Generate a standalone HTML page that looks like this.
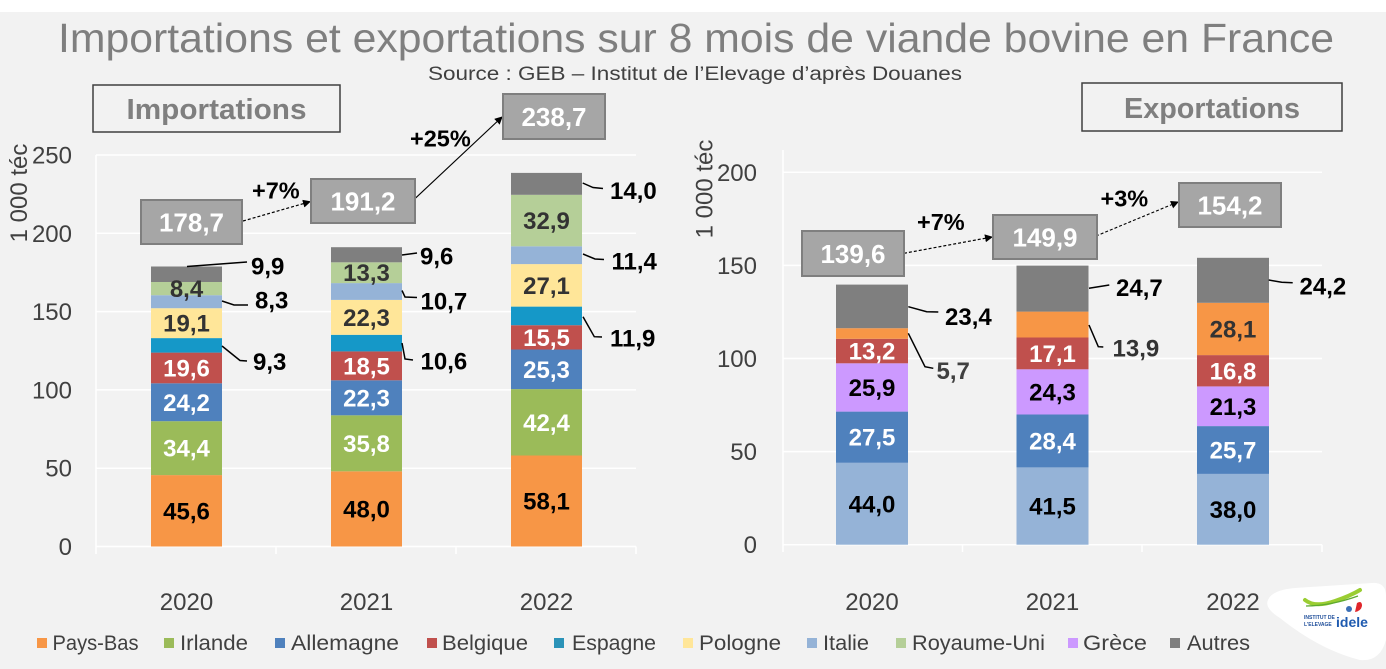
<!DOCTYPE html>
<html><head><meta charset="utf-8"><style>
html,body{margin:0;padding:0;background:#f2f2f2;}
svg{display:block;}
text{font-family:"Liberation Sans",sans-serif;}
.b{font-weight:bold;}
</style></head><body>
<svg width="1386" height="669" viewBox="0 0 1386 669" xmlns="http://www.w3.org/2000/svg">
<defs>
<marker id="ah" markerWidth="8" markerHeight="8" refX="7" refY="4" orient="auto" markerUnits="userSpaceOnUse"><path d="M0,0 L8,4 L0,8 Z" fill="#000"/></marker>
</defs>
<rect x="0" y="0" width="1386" height="669" fill="#f2f2f2"/>
<rect x="0" y="0" width="1386" height="12" fill="#ffffff"/>

<!-- Title -->
<text x="58" y="52" font-size="41" fill="#7f7f7f" textLength="1276" lengthAdjust="spacingAndGlyphs">Importations et exportations sur 8 mois de viande bovine en France</text>
<text x="428" y="80" font-size="19" fill="#404040" textLength="534" lengthAdjust="spacingAndGlyphs">Source : GEB – Institut de l’Elevage d’après Douanes</text>

<!-- Section boxes -->
<rect x="93" y="85" width="247" height="47" fill="#f2f2f2" stroke="#404040" stroke-width="1.5"/>
<text x="216.5" y="119" font-size="29" class="b" fill="#7f7f7f" text-anchor="middle" textLength="180" lengthAdjust="spacingAndGlyphs">Importations</text>
<rect x="1082" y="83" width="260" height="48" fill="#f2f2f2" stroke="#404040" stroke-width="1.5"/>
<text x="1212" y="118" font-size="29" class="b" fill="#7f7f7f" text-anchor="middle" textLength="176" lengthAdjust="spacingAndGlyphs">Exportations</text>

<!-- LEFT CHART grid -->
<g stroke="#ffffff" stroke-width="1.5">
<line x1="96" y1="155" x2="636" y2="155"/>
<line x1="96" y1="233.3" x2="636" y2="233.3"/>
<line x1="96" y1="311.6" x2="636" y2="311.6"/>
<line x1="96" y1="389.9" x2="636" y2="389.9"/>
<line x1="96" y1="468.2" x2="636" y2="468.2"/>
<line x1="96" y1="546.5" x2="636" y2="546.5"/>
<line x1="96" y1="155" x2="96" y2="554"/>
<line x1="276" y1="546.5" x2="276" y2="554"/>
<line x1="456" y1="546.5" x2="456" y2="554"/>
<line x1="636" y1="546.5" x2="636" y2="554"/>
</g>
<g font-size="24" fill="#404040" text-anchor="end">
<text x="72" y="163.5">250</text>
<text x="72" y="241.8">200</text>
<text x="72" y="320.1">150</text>
<text x="72" y="398.4">100</text>
<text x="72" y="476.7">50</text>
<text x="72" y="555">0</text>
</g>
<text transform="translate(27,193) rotate(-90)" font-size="24" fill="#404040" text-anchor="middle">1 000 téc</text>

<!-- Left bars 2020 -->
<g>
<rect x="151" y="475.1" width="71" height="71.4" fill="#F79646"/>
<rect x="151" y="421.2" width="71" height="53.9" fill="#9BBB59"/>
<rect x="151" y="383.3" width="71" height="37.9" fill="#4F81BD"/>
<rect x="151" y="352.6" width="71" height="30.7" fill="#C0504D"/>
<rect x="151" y="338.1" width="71" height="14.5" fill="#1598C8"/>
<rect x="151" y="308.2" width="71" height="29.9" fill="#FFE699"/>
<rect x="151" y="295.2" width="71" height="13" fill="#95B3D7"/>
<rect x="151" y="282.0" width="71" height="13.2" fill="#B5CF98"/>
<rect x="151" y="266.5" width="71" height="15.5" fill="#7F7F7F"/>
</g>
<!-- 2021 -->
<g>
<rect x="331" y="471.3" width="71" height="75.2" fill="#F79646"/>
<rect x="331" y="415.3" width="71" height="56" fill="#9BBB59"/>
<rect x="331" y="380.3" width="71" height="35" fill="#4F81BD"/>
<rect x="331" y="351.4" width="71" height="28.9" fill="#C0504D"/>
<rect x="331" y="334.8" width="71" height="16.6" fill="#1598C8"/>
<rect x="331" y="299.9" width="71" height="34.9" fill="#FFE699"/>
<rect x="331" y="283.1" width="71" height="16.8" fill="#95B3D7"/>
<rect x="331" y="262.3" width="71" height="20.8" fill="#B5CF98"/>
<rect x="331" y="247.2" width="71" height="15.1" fill="#7F7F7F"/>
</g>
<!-- 2022 -->
<g>
<rect x="511" y="455.5" width="71" height="91" fill="#F79646"/>
<rect x="511" y="389.1" width="71" height="66.4" fill="#9BBB59"/>
<rect x="511" y="349.5" width="71" height="39.6" fill="#4F81BD"/>
<rect x="511" y="325.2" width="71" height="24.3" fill="#C0504D"/>
<rect x="511" y="306.6" width="71" height="18.6" fill="#1598C8"/>
<rect x="511" y="264.1" width="71" height="42.5" fill="#FFE699"/>
<rect x="511" y="246.3" width="71" height="17.8" fill="#95B3D7"/>
<rect x="511" y="194.8" width="71" height="51.5" fill="#B5CF98"/>
<rect x="511" y="172.9" width="71" height="21.9" fill="#7F7F7F"/>
</g>

<!-- Left in-bar labels -->
<g font-size="24" class="b" text-anchor="middle">
<text x="186.5" y="519.3" fill="#000">45,6</text>
<text x="186.5" y="456.7" fill="#fff">34,4</text>
<text x="186.5" y="410.8" fill="#fff">24,2</text>
<text x="186.5" y="376.5" fill="#fff">19,6</text>
<text x="186.5" y="331.7" fill="#333">19,1</text>
<text x="186.5" y="297.1" fill="#333">8,4</text>

<text x="366.5" y="517.4" fill="#000">48,0</text>
<text x="366.5" y="451.8" fill="#fff">35,8</text>
<text x="366.5" y="406.3" fill="#fff">22,3</text>
<text x="366.5" y="374.4" fill="#fff">18,5</text>
<text x="366.5" y="325.9" fill="#333">22,3</text>
<text x="366.5" y="281.2" fill="#333">13,3</text>

<text x="546.5" y="509.5" fill="#000">58,1</text>
<text x="546.5" y="430.8" fill="#fff">42,4</text>
<text x="546.5" y="377.8" fill="#fff">25,3</text>
<text x="546.5" y="345.9" fill="#fff">15,5</text>
<text x="546.5" y="293.9" fill="#333">27,1</text>
<text x="546.5" y="229.1" fill="#333">32,9</text>
</g>

<!-- Left leader lines -->
<g stroke="#000" stroke-width="1.5" fill="none">
<polyline points="187,266.5 247,262"/>
<polyline points="222,301 234,305 248,305"/>
<polyline points="222,346 240,360.5 247,361"/>
<polyline points="402,255 417,253"/>
<polyline points="402,290.5 405,297 417,297.5"/>
<polyline points="402,343 405,359 413,360"/>
<polyline points="582.7,183 593,187.5 603,188.5"/>
<polyline points="583,254 595,259 604,259.5"/>
<polyline points="583,316.7 594.3,336.7 602,337"/>
</g>
<g font-size="24" class="b" fill="#000">
<text x="251" y="274.5">9,9</text>
<text x="255" y="308.5">8,3</text>
<text x="253" y="370">9,3</text>
<text x="420" y="264.5">9,6</text>
<text x="420.5" y="309.5">10,7</text>
<text x="420.5" y="369.5">10,6</text>
<text x="610" y="199">14,0</text>
<text x="611.5" y="269.5">11,4</text>
<text x="610" y="346.5">11,9</text>
</g>

<!-- Left totals & arrows -->
<line x1="243" y1="221" x2="310" y2="201.7" stroke="#000" stroke-width="1.2" stroke-dasharray="3,2" marker-end="url(#ah)"/>
<line x1="415.3" y1="198.3" x2="502" y2="117" stroke="#000" stroke-width="1.1" marker-end="url(#ah)"/>
<g stroke="#7f7f7f" stroke-width="2" fill="#a6a6a6">
<rect x="141" y="200" width="101" height="44"/>
<rect x="311" y="179" width="104" height="44"/>
<rect x="503" y="94" width="102" height="45"/>
</g>
<g font-size="26" class="b" fill="#fff" text-anchor="middle">
<text x="191.5" y="231.5">178,7</text>
<text x="363" y="210.5">191,2</text>
<text x="554" y="126">238,7</text>
</g>
<g font-size="23.5" class="b" fill="#000">
<text x="252" y="198.5">+7%</text>
<text x="410" y="146.5">+25%</text>
</g>

<!-- RIGHT CHART grid -->
<g stroke="#ffffff" stroke-width="1.5">
<line x1="783" y1="172.3" x2="1322" y2="172.3"/>
<line x1="783" y1="265.4" x2="1322" y2="265.4"/>
<line x1="783" y1="358.5" x2="1322" y2="358.5"/>
<line x1="783" y1="451.6" x2="1322" y2="451.6"/>
<line x1="783" y1="544.7" x2="1322" y2="544.7"/>
<line x1="783" y1="150" x2="783" y2="552"/>
<line x1="962.5" y1="544.7" x2="962.5" y2="552"/>
<line x1="1142" y1="544.7" x2="1142" y2="552"/>
<line x1="1322" y1="544.7" x2="1322" y2="552"/>
</g>
<g font-size="24" fill="#404040" text-anchor="end">
<text x="757" y="180.8">200</text>
<text x="757" y="273.9">150</text>
<text x="757" y="367">100</text>
<text x="757" y="460.1">50</text>
<text x="757" y="553.2">0</text>
</g>
<text transform="translate(712.5,189) rotate(-90)" font-size="24" fill="#404040" text-anchor="middle">1 000 téc</text>

<!-- Right bars -->
<g>
<rect x="836" y="462.8" width="72" height="81.9" fill="#95B3D7"/>
<rect x="836" y="411.6" width="72" height="51.2" fill="#4F81BD"/>
<rect x="836" y="363.3" width="72" height="48.3" fill="#CC99FF"/>
<rect x="836" y="338.8" width="72" height="24.5" fill="#C0504D"/>
<rect x="836" y="328.2" width="72" height="10.6" fill="#F79646"/>
<rect x="836" y="284.6" width="72" height="43.6" fill="#7F7F7F"/>

<rect x="1016.5" y="467.4" width="72" height="77.3" fill="#95B3D7"/>
<rect x="1016.5" y="414.5" width="72" height="52.9" fill="#4F81BD"/>
<rect x="1016.5" y="369.3" width="72" height="45.2" fill="#CC99FF"/>
<rect x="1016.5" y="337.5" width="72" height="31.8" fill="#C0504D"/>
<rect x="1016.5" y="311.6" width="72" height="25.9" fill="#F79646"/>
<rect x="1016.5" y="265.6" width="72" height="46" fill="#7F7F7F"/>

<rect x="1197" y="473.9" width="72" height="70.8" fill="#95B3D7"/>
<rect x="1197" y="426.1" width="72" height="47.8" fill="#4F81BD"/>
<rect x="1197" y="386.4" width="72" height="39.7" fill="#CC99FF"/>
<rect x="1197" y="355.1" width="72" height="31.3" fill="#C0504D"/>
<rect x="1197" y="302.8" width="72" height="52.3" fill="#F79646"/>
<rect x="1197" y="257.8" width="72" height="45" fill="#7F7F7F"/>
</g>
<g font-size="24" class="b" text-anchor="middle">
<text x="872" y="512.3" fill="#000">44,0</text>
<text x="872" y="445.7" fill="#fff">27,5</text>
<text x="872" y="396" fill="#000">25,9</text>
<text x="872" y="359.5" fill="#fff">13,2</text>

<text x="1052.5" y="514.5" fill="#000">41,5</text>
<text x="1052.5" y="449.5" fill="#fff">28,4</text>
<text x="1052.5" y="400.4" fill="#000">24,3</text>
<text x="1052.5" y="361.9" fill="#fff">17,1</text>

<text x="1233" y="517.8" fill="#000">38,0</text>
<text x="1233" y="458.5" fill="#fff">25,7</text>
<text x="1233" y="414.8" fill="#000">21,3</text>
<text x="1233" y="379.3" fill="#fff">16,8</text>
<text x="1233" y="337.5" fill="#333">28,1</text>
</g>
<g stroke="#000" stroke-width="1.5" fill="none">
<polyline points="908.3,306.7 926.7,311.7 938.3,312"/>
<polyline points="908.3,333.3 925,366.7 933.3,368.3"/>
<polyline points="1089,288.3 1109.3,285"/>
<polyline points="1089,325 1098.3,346.7 1103.3,347"/>
<polyline points="1268.7,280 1281.7,282.3 1292.7,282.7"/>
</g>
<g font-size="24" class="b">
<text x="945" y="325" fill="#000">23,4</text>
<text x="936.5" y="379" fill="#404040">5,7</text>
<text x="1116" y="296" fill="#000">24,7</text>
<text x="1112.5" y="356.5" fill="#333">13,9</text>
<text x="1299.5" y="294.5" fill="#000">24,2</text>
</g>

<line x1="904" y1="253.3" x2="992" y2="237" stroke="#000" stroke-width="1.2" stroke-dasharray="3,2" marker-end="url(#ah)"/>
<line x1="1096" y1="236" x2="1178" y2="202" stroke="#000" stroke-width="1.1" stroke-dasharray="3,2" marker-end="url(#ah)"/>
<g stroke="#7f7f7f" stroke-width="2" fill="#a6a6a6">
<rect x="802" y="231" width="102" height="45"/>
<rect x="993" y="215" width="104" height="44"/>
<rect x="1179" y="183" width="102" height="44"/>
</g>
<g font-size="26" class="b" fill="#fff" text-anchor="middle">
<text x="853" y="263">139,6</text>
<text x="1045" y="246.5">149,9</text>
<text x="1230" y="214.5">154,2</text>
</g>
<g font-size="23.5" class="b" fill="#000">
<text x="917" y="230">+7%</text>
<text x="1100.5" y="206.5">+3%</text>
</g>

<!-- Year labels -->
<g font-size="24" fill="#404040" text-anchor="middle">
<text x="186.5" y="610">2020</text>
<text x="366.5" y="610">2021</text>
<text x="546.5" y="610">2022</text>
<text x="872" y="610">2020</text>
<text x="1052.5" y="610">2021</text>
<text x="1233" y="610">2022</text>
</g>

<!-- Legend -->
<g>
<rect x="37" y="638" width="10" height="10" fill="#F79646"/>
<rect x="164" y="638" width="10" height="10" fill="#9BBB59"/>
<rect x="275" y="638" width="10" height="10" fill="#4F81BD"/>
<rect x="427" y="638" width="10" height="10" fill="#C0504D"/>
<rect x="554" y="638" width="10" height="10" fill="#2B93B8"/>
<rect x="683" y="638" width="10" height="10" fill="#FFE699"/>
<rect x="807" y="638" width="10" height="10" fill="#95B3D7"/>
<rect x="896" y="638" width="10" height="10" fill="#B5CF98"/>
<rect x="1068" y="638" width="10" height="10" fill="#CC99FF"/>
<rect x="1170" y="638" width="10" height="10" fill="#7F7F7F"/>
</g>
<g font-size="21" fill="#404040">
<text x="52.5" y="650" textLength="86" lengthAdjust="spacingAndGlyphs">Pays-Bas</text>
<text x="180" y="650" textLength="68" lengthAdjust="spacingAndGlyphs">Irlande</text>
<text x="291" y="650" textLength="108" lengthAdjust="spacingAndGlyphs">Allemagne</text>
<text x="442" y="650" textLength="86" lengthAdjust="spacingAndGlyphs">Belgique</text>
<text x="572" y="650" textLength="84" lengthAdjust="spacingAndGlyphs">Espagne</text>
<text x="699" y="650" textLength="82" lengthAdjust="spacingAndGlyphs">Pologne</text>
<text x="823" y="650" textLength="46" lengthAdjust="spacingAndGlyphs">Italie</text>
<text x="912" y="650" textLength="133" lengthAdjust="spacingAndGlyphs">Royaume-Uni</text>
<text x="1083" y="650" textLength="64" lengthAdjust="spacingAndGlyphs">Grèce</text>
<text x="1187" y="650" textLength="63" lengthAdjust="spacingAndGlyphs">Autres</text>
</g>

<!-- Logo -->
<path d="M1268,600 Q1272,590 1295,588 L1372,583 Q1386,582 1386,596 L1386,640 Q1380,662 1360,660 Q1320,650 1280,618 Q1264,608 1268,600 Z" fill="#ffffff"/>
<path d="M1305,600 Q1315,608 1335,601 Q1350,596 1360,590" stroke="#9ACD32" stroke-width="4" fill="none" stroke-linecap="round"/>
<path d="M1306,606 Q1330,606 1358,596" stroke="#5DAA2F" stroke-width="1.2" fill="none"/>
<path d="M1357,603 Q1362,600 1362,606 Q1361,611 1355,612 Z" fill="#E0262B"/>
<circle cx="1349" cy="609" r="3" fill="#3B6FB6"/>
<text x="1304" y="619" font-size="5" fill="#1F4E9A" class="b">INSTITUT DE</text>
<text x="1304" y="626" font-size="5" fill="#1F4E9A" class="b">L'ELEVAGE</text>
<text x="1336" y="627" font-size="14" class="b" fill="#1F5BB0">idele</text>
</svg>
</body></html>
